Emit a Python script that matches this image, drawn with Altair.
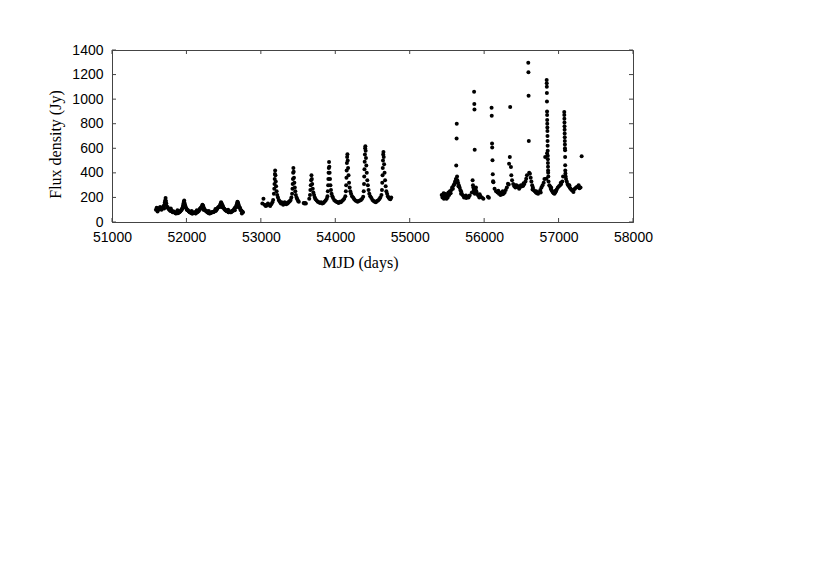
import altair as alt
import pandas as pd

# ---- data ----
s1_mjd = [51590, 51600, 51605, 51615, 51620, 51630, 51635, 51645, 51650, 51660, 51665, 51675, 51680, 51690,
          51695, 51705, 51710, 51715, 51720, 51725, 51730, 51740, 51748, 51755, 51765, 51770, 51780, 51785,
          51795, 51800, 51810, 51815, 51825, 51830, 51840, 51845, 51855, 51860, 51870, 51875, 51885, 51890,
          51900, 51905, 51915, 51920, 51930, 51935, 51945, 51950, 51955, 51960, 51965, 51970, 51975, 51980,
          51985, 51990, 52000, 52005, 52015, 52020, 52030, 52035, 52045, 52050, 52060, 52065, 52075, 52080,
          52090, 52095, 52105, 52110, 52120, 52125, 52135, 52140, 52150, 52155, 52165, 52170, 52180, 52185,
          52195, 52200, 52210, 52215, 52220, 52225, 52230, 52235, 52245, 52250, 52260, 52265, 52275, 52280,
          52290, 52295, 52305, 52310, 52320, 52325, 52335, 52340, 52350, 52355, 52365, 52370, 52380, 52385,
          52395, 52400, 52410, 52415, 52425, 52430, 52440, 52445, 52455, 52460, 52465, 52470, 52475, 52480,
          52490, 52495, 52505, 52510, 52520, 52525, 52535, 52540, 52550, 52555, 52565, 52570, 52580, 52585,
          52595, 52600, 52610, 52615, 52625, 52630, 52640, 52645, 52655, 52660, 52670, 52675, 52680, 52685,
          52690, 52695, 52700, 52705, 52710, 52720, 52725, 52735, 52740, 52750, 52760,
          51612, 51700, 51722, 51790, 51880, 51962, 51975, 52070, 52140, 52228, 52300, 52390, 52462,
          52478, 52560, 52650, 52692, 52702, 52745]
s1_flux = [100, 115, 110, 95, 100, 110, 105, 120, 120, 105, 100, 110, 115, 125,
           130, 140, 160, 175, 195, 170, 150, 125, 120, 110, 105, 100, 95, 90,
           95, 90, 85, 80, 85, 85, 80, 75, 72, 70, 78, 80, 72, 75, 82, 80,
           85, 90, 95, 100, 110, 120, 135, 150, 165, 175, 155, 140, 130, 120,
           110, 100, 95, 95, 88, 85, 80, 80, 75, 75, 70, 70, 72, 75, 78, 80,
           72, 70, 78, 80, 82, 85, 90, 95, 105, 110, 115, 120, 130, 140,
           135, 130, 120, 110, 100, 95, 92, 90, 85, 80, 78, 75, 72, 70,
           72, 75, 78, 80, 80, 80, 82, 85, 88, 90, 92, 95, 105, 110,
           118, 120, 125, 130, 140, 150, 160, 155, 145, 140, 130, 120, 110, 105,
           100, 95, 92, 90, 88, 85, 80, 80, 82, 85, 80, 80, 85, 90,
           92, 95, 100, 110, 115, 120, 130, 140, 150, 165, 160, 150, 140, 130,
           120, 115, 100, 95, 90, 85, 80,
           85, 110, 150, 110, 95, 120, 130, 90, 95, 100, 90, 105, 125,
           120, 100, 95, 130, 120, 70]

s2_mjd = [53020, 53035, 53050, 53065, 53080, 53095, 53110, 53125, 53140, 53155, 53165,
          53175, 53180, 53183, 53186, 53189, 53192, 53196, 53200, 53205, 53212, 53220, 53230, 53240,
          53250, 53260, 53270, 53280, 53290, 53300, 53310, 53320, 53330, 53340, 53350, 53360, 53370,
          53380, 53390, 53400, 53410,
          53420, 53425, 53428, 53431, 53434, 53437, 53441, 53445, 53450, 53456, 53463, 53470, 53480,
          53490, 53500, 53510,
          53575, 53585, 53595, 53605,
          53650, 53660, 53665, 53670, 53675, 53680, 53685, 53690, 53697, 53705, 53715, 53725, 53735,
          53750, 53765, 53780, 53795, 53810, 53825, 53840, 53855, 53870, 53885, 53895,
          53900, 53904, 53907, 53910, 53913, 53916, 53920, 53924, 53929, 53935, 53942, 53950, 53960,
          53970, 53985, 54000, 54015, 54030, 54045, 54060, 54075, 54090, 54105, 54120, 54135,
          54142, 54146, 54150, 54153, 54156, 54159, 54163, 54167, 54172, 54178, 54185, 54193, 54202,
          54212, 54225, 54240, 54255, 54270, 54285, 54300, 54315, 54330, 54345, 54360, 54375,
          54382, 54386, 54389, 54392, 54395, 54398, 54401, 54404, 54408, 54412, 54417, 54423, 54430,
          54438, 54447, 54457, 54470, 54485, 54500, 54515, 54530, 54545, 54560, 54575, 54590, 54605,
          54620, 54627, 54631, 54635, 54638, 54641, 54644, 54647, 54651, 54656, 54662, 54669, 54677,
          54686, 54696, 54706, 54716, 54728, 54740, 54752]
s2_flux = [150, 190, 140, 130, 135, 150, 140, 130, 145, 160, 180,
           230, 270, 310, 350, 390, 420, 380, 330, 290, 250, 220, 200, 180,
           170, 160, 150, 160, 150, 140, 150, 160, 150, 145, 155, 150, 160,
           165, 170, 180, 200,
           230, 270, 310, 350, 400, 440, 410, 360, 320, 280, 250, 220, 200,
           185, 170, 165,
           155, 150, 155, 150,
           190, 220, 260, 300, 340, 380, 350, 310, 270, 240, 220, 200, 185,
           175, 165, 160, 155, 160, 150, 155, 165, 175, 190, 210,
           250, 300, 350, 400, 440, 488, 450, 400, 350, 300, 260, 230, 210,
           195, 180, 170, 165, 160, 155, 165, 160, 170, 180, 190, 210,
           250, 300, 360, 420, 480, 530, 551, 500, 440, 380, 320, 280, 250,
           230, 210, 200, 185, 175, 170, 165, 170, 175, 180, 190, 205,
           250, 310, 370, 430, 490, 550, 600, 616, 580, 520, 460, 400, 340,
           300, 260, 230, 210, 195, 180, 170, 165, 160, 170, 175, 185, 200,
           220, 260, 320, 380, 440, 500, 550, 570, 530, 470, 400, 340, 290,
           250, 230, 210, 200, 190, 185, 200]

s3_mjd = [55430, 55440, 55450, 55460, 55470, 55480, 55490, 55500, 55510, 55520, 55530, 55540, 55550,
          55560, 55570, 55580, 55590, 55600, 55610, 55620, 55625, 55630, 55632, 55636, 55640, 55650,
          55660, 55670, 55680, 55690, 55700, 55715, 55730, 55745, 55760, 55775, 55790, 55805,
          55835, 55845, 55850, 55855, 55860, 55865, 55868, 55870, 55873, 55865, 55875, 55885, 55895,
          55905, 55920, 55935, 55950, 55970, 55990, 56050, 56064,
          56100, 56102, 56106, 56108, 56112, 56116, 56120, 56124, 56140, 56160, 56180, 56200, 56210,
          56220, 56235, 56250, 56260, 56275, 56290, 56305, 56320,
          56330, 56335, 56345, 56350, 56360, 56365, 56375, 56390, 56405, 56420, 56435, 56450, 56465,
          56480, 56495, 56510, 56525, 56540, 56555, 56565, 56575,
          56593, 56595, 56597, 56600, 56605, 56615, 56625, 56635, 56645, 56655, 56665, 56680, 56695,
          56710, 56725, 56740, 56755, 56770, 56785, 56800, 56810, 56820, 56835,
          56840, 56841, 56842, 56843, 56844, 56845, 56846, 56847, 56848, 56849, 56850, 56851, 56852,
          56853, 56854, 56855, 56856, 56857, 56858, 56859, 56860, 56862, 56845,
          56865, 56875, 56885, 56895, 56905, 56915, 56925, 56935, 56945, 56955, 56965, 56975, 56990,
          57005, 57020, 57035, 57050, 57060,
          57076, 57077, 57078, 57079, 57080, 57081, 57082, 57083, 57084, 57085, 57086, 57087, 57088,
          57089, 57090, 57092, 57095, 57100, 57110, 57120, 57130, 57140, 57150, 57160, 57175, 57190,
          57205, 57220, 57235, 57250, 57265, 57280, 57295, 57310,
          55455, 55495, 55535, 55615, 55655, 55690, 55755, 55890, 55940, 56190, 56245, 56415, 56470,
          56530, 56650, 56700, 56760, 56900, 56960, 57030, 57145, 57200, 57270]
s3_flux = [220, 200, 210, 190, 230, 215, 205, 225, 200, 240, 220, 250, 235,
           260, 280, 270, 300, 310, 330, 350, 460, 680, 800, 370, 340, 320,
           300, 280, 260, 250, 230, 215, 200, 210, 195, 205, 200, 215,
           240, 340, 300, 280, 260, 1060, 960, 916, 589, 240, 230, 260, 250,
           230, 215, 200, 210, 200, 190, 205, 198,
           929, 864, 638, 606, 502, 388, 331, 323, 270, 250, 240, 230, 240,
           220, 235, 250, 230, 240, 260, 280, 312,
           306, 475, 529, 937, 447, 380, 340, 310, 290, 280, 300, 285, 290,
           280, 300, 290, 295, 310, 330, 353, 380,
           1296, 1218, 1027, 660, 400, 393, 360, 330, 300, 280, 260, 250, 240,
           235, 230, 245, 260, 280, 300, 320, 350, 529, 353,
           1155, 1130, 1100, 1050, 980, 900, 870, 830, 800, 770, 740, 700, 660,
           620, 580, 540, 510, 480, 450, 420, 400, 370, 560,
           330, 300, 290, 270, 260, 250, 240, 235, 230, 240, 250, 265, 280,
           290, 300, 310, 330, 370,
           896, 870, 840, 810, 780, 750, 720, 690, 660, 630, 600, 584, 529,
           461, 420, 395, 370, 350, 330, 310, 300, 290, 280, 270, 260, 255,
           265, 270, 280, 285, 290, 275, 280, 535,
           235, 190, 240, 320, 290, 230, 215, 280, 225, 255, 225, 300, 270,
           315, 265, 250, 240, 280, 255, 320, 300, 245, 300]

x_ticks = [51000, 52000, 53000, 54000, 55000, 56000, 57000, 58000]
y_ticks = [0, 200, 400, 600, 800, 1000, 1200, 1400]

W, H = 521, 172
AXC = "#444444"

df = pd.DataFrame({"mjd": s1_mjd + s2_mjd + s3_mjd,
                   "flux": s1_flux + s2_flux + s3_flux})
xt = pd.DataFrame({"t": x_ticks})
yt = pd.DataFrame({"t": y_ticks})

xscale = alt.Scale(domain=[51000, 58000], nice=False, zero=False)
yscale = alt.Scale(domain=[0, 1400], nice=False)

xaxis = alt.Axis(values=x_ticks, title="MJD (days)", format="d", ticks=False, grid=False,
                 domainColor=AXC, labelFont="Liberation Sans", labelFontSize=14,
                 labelColor="black", labelPadding=8, labelOverlap=False,
                 labelFlush=False, titleFont="Liberation Serif",
                 titleFontSize=16, titleFontWeight="normal", titleColor="black",
                 titlePadding=10, titleX=248)
yaxis = alt.Axis(values=y_ticks, title="Flux density (Jy)", format="d", ticks=False,
                 grid=False, domainColor=AXC, labelFont="Liberation Sans",
                 labelFontSize=14, labelColor="black", labelPadding=9,
                 labelOverlap=False, labelFlush=False,
                 titleFont="Liberation Serif", titleFontSize=16,
                 titleFontWeight="normal", titleColor="black", titlePadding=8,
                 titleY=94)

points = alt.Chart(df).mark_circle(size=16, color="black", opacity=1).encode(
    x=alt.X("mjd:Q", scale=xscale, axis=xaxis),
    y=alt.Y("flux:Q", scale=yscale, axis=yaxis),
)

tick_len = 4
xb = alt.Chart(xt).mark_rule(color=AXC).encode(
    x=alt.X("t:Q", scale=xscale, axis=xaxis), y=alt.value(H), y2=alt.value(H - tick_len))
xtop = alt.Chart(xt).mark_rule(color=AXC).encode(
    x=alt.X("t:Q", scale=xscale, axis=xaxis), y=alt.value(0), y2=alt.value(tick_len))
yl = alt.Chart(yt).mark_rule(color=AXC).encode(
    y=alt.Y("t:Q", scale=yscale, axis=yaxis), x=alt.value(0), x2=alt.value(tick_len))
yr = alt.Chart(yt).mark_rule(color=AXC).encode(
    y=alt.Y("t:Q", scale=yscale, axis=yaxis), x=alt.value(W), x2=alt.value(W - tick_len))

chart = alt.layer(points, xb, xtop, yl, yr).properties(
    width=W, height=H,
    autosize=alt.AutoSizeParams(type="none"),
    padding={"left": 104, "top": 42, "right": 40, "bottom": 70},
    background="white",
).configure_view(stroke=AXC, strokeWidth=1)

chart.save("out.html", embed_options={"renderer": "svg", "actions": False})
